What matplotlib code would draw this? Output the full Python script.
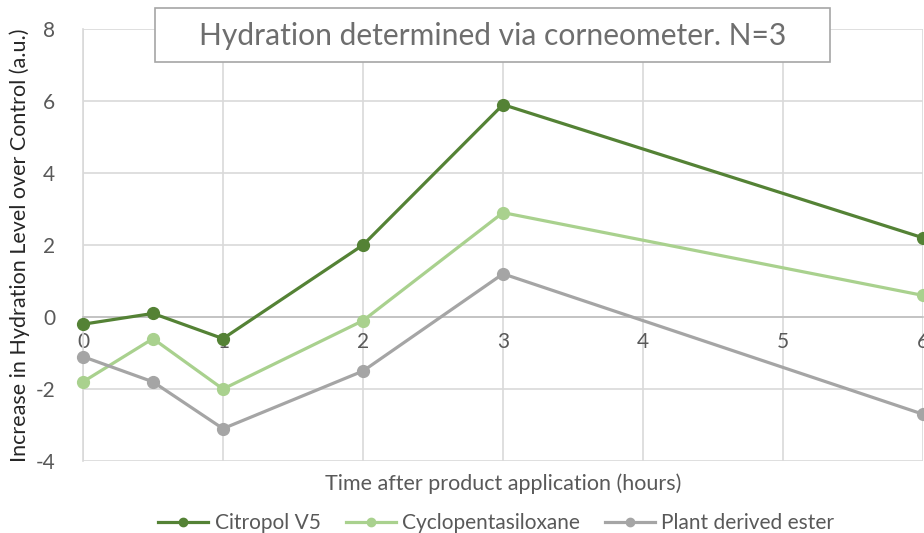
import matplotlib
matplotlib.use("Agg")
from matplotlib import pyplot as plt
from matplotlib.lines import Line2D
from matplotlib.patches import Rectangle

plt.rcParams['font.family'] = ['Lato', 'DejaVu Sans']
plt.rcParams['axes.unicode_minus'] = False

hours = [0, 0.5, 1, 2, 3, 6]
citropol = [-0.2, 0.1, -0.6, 2.0, 5.9, 2.2]
cyclo = [-1.8, -0.6, -2.0, -0.1, 2.9, 0.6]
plant_ester = [-1.1, -1.8, -3.1, -1.5, 1.2, -2.7]

series_names = ['Citropol V5', 'Cyclopentasiloxane', 'Plant derived ester']
series_colors = ['#548235', '#a9d18e', '#a5a5a5']
x_ticks = [0, 1, 2, 3, 4, 5, 6]
y_ticks = [-4, -2, 0, 2, 4, 6, 8]

text_color = '#595959'

fig = plt.figure(figsize=(9.24, 5.33), dpi=100)
ax = fig.add_axes([0.0898, 0.135, 0.9092, 0.8106])

for values, name, color in zip([citropol, cyclo, plant_ester], series_names, series_colors):
    ax.plot(hours, values, color=color, linewidth=2.3, marker='o', markersize=8.5,
            label=name, zorder=3, clip_on=False)

ax.set_xlim(0, 6)
ax.set_ylim(-4, 8)
ax.set_xticks(x_ticks)
ax.set_yticks(y_ticks)
ax.grid(True, color='#d9d9d9', linewidth=1.2, zorder=0)
ax.set_axisbelow(True)

for side in ['top', 'right']:
    ax.spines[side].set_visible(False)
ax.spines['bottom'].set_position(('data', 0))
ax.spines['bottom'].set_color('#bfbfbf')
ax.spines['bottom'].set_linewidth(1.2)
ax.spines['left'].set_color('#d9d9d9')
ax.spines['left'].set_linewidth(1.2)
ax.tick_params(axis='both', length=0, labelsize=15, colors=text_color)
ax.tick_params(axis='x', pad=11)
ax.tick_params(axis='y', pad=20)

ax.set_ylabel('Increase in Hydration Level over Control (a.u.)', fontsize=15.5,
              color='#262626', labelpad=4)
ax.text(0.5, -0.028, 'Time after product application (hours)', transform=ax.transAxes,
        ha='center', va='top', fontsize=15.5, color=text_color)

# title box
fig.patches.append(Rectangle((0.1677, 0.8837), 0.7305, 0.1013, transform=fig.transFigure,
                             facecolor='white', edgecolor='#a6a6a6', linewidth=1.2, zorder=5))
fig.text(0.533, 0.932, 'Hydration determined via corneometer. N=3', ha='center', va='center',
         fontsize=21.6, color='#6e6e6e', zorder=6)

handles = [Line2D([], [], color=c, linewidth=2.3, marker='o', markersize=6) for c in series_colors]
fig.legend(handles, series_names, loc='lower center', bbox_to_anchor=(0.537, -0.035), ncol=3,
           frameon=False, fontsize=15, labelcolor=text_color, handlelength=2.4,
           columnspacing=1.2, handletextpad=0.3)

fig.savefig('out.png', dpi=100)
